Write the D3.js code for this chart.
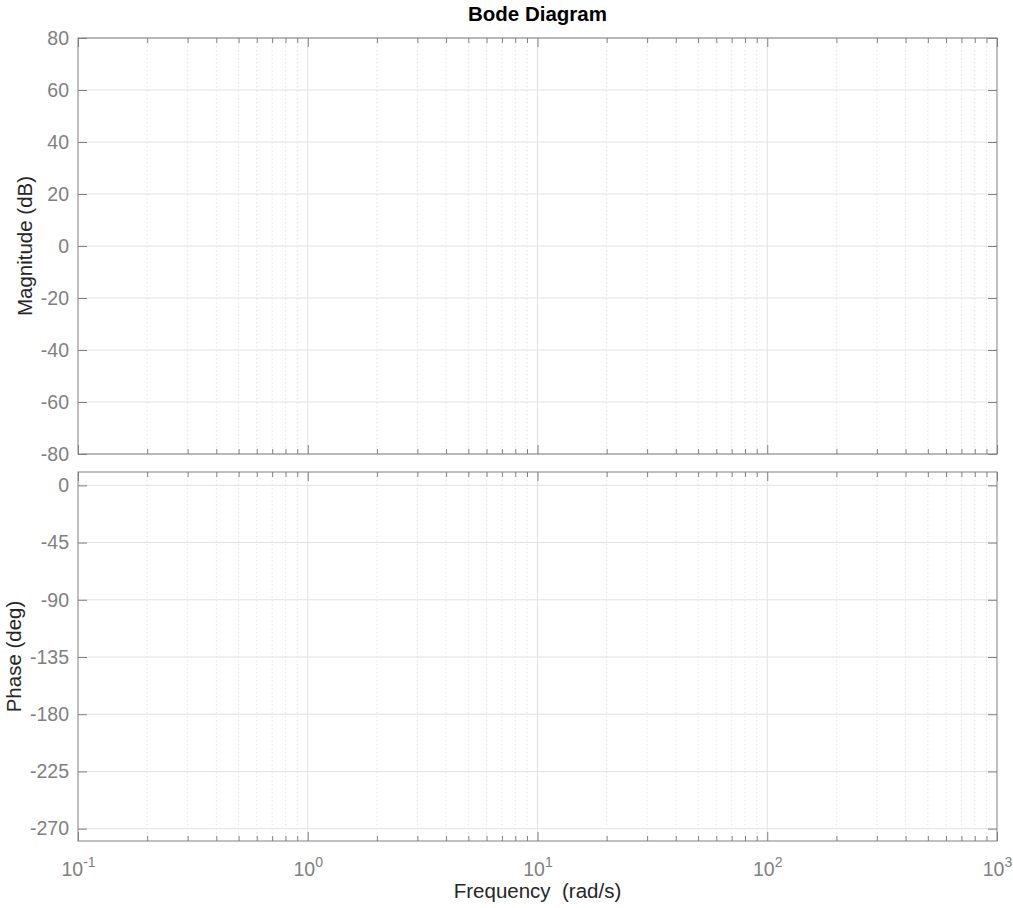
<!DOCTYPE html>
<html>
<head>
<meta charset="utf-8">
<script src="https://cdn.jsdelivr.net/npm/d3@7"></script>
<style>
  body { margin: 0; background: #fff; }
  svg { display: block; font-family: "Liberation Sans", Arial, Helvetica, sans-serif; }
  .tick-label { fill: #808080; font-size: 19.5px; }
  .axis-label { fill: #262626; font-size: 20.5px; }
  .title { fill: #000; font-size: 20.5px; font-weight: bold; }
</style>
</head>
<body>
<div id="chart"></div>
<script>
"use strict";

// frequency axis (rad/s), log scale, one label per decade
var freqDomain = [0.1, 1000];
var freqDecades = [0.1, 1, 10, 100, 1000];
var freqExponents = ["-1", "0", "1", "2", "3"];

// magnitude panel (dB)
var magDomain = [-80, 80];
var magTicks = [-80, -60, -40, -20, 0, 20, 40, 60, 80];

// phase panel (deg)
var phaseDomain = [-279.7, 10.5];
var phaseTicks = [-270, -225, -180, -135, -90, -45, 0];

var w = 1013,
  h = 908,
  left = 78,
  right = 997;

var svg = d3
  .select("#chart")
  .append("svg")
  .attr("width", w)
  .attr("height", h);

var x = d3.scaleLog().domain(freqDomain).range([left, right]);

// all ticks 1..9 per decade for minor grid
var minorTicks = x.ticks().filter(function(d) {
  return freqDecades.indexOf(d) < 0;
});

//plain hyphen for negative numbers, like the reference
var fmt = function(d) {
  return String(d);
};

function panel(yDomain, yTicks, top, bottom, showX) {
  var y = d3.scaleLinear().domain(yDomain).range([bottom, top]);
  var g = svg.append("g");

  // minor grid (dotted)
  g.append("g")
    .selectAll("line")
    .data(minorTicks)
    .enter()
    .append("line")
    .attr("x1", function(d) { return x(d); })
    .attr("x2", function(d) { return x(d); })
    .attr("y1", top)
    .attr("y2", bottom)
    .attr("stroke", "#e6e6e6")
    .attr("stroke-width", 1)
    .attr("stroke-dasharray", "1.5,2.5");

  // major grid
  g.append("g")
    .selectAll("line")
    .data(freqDecades.slice(1, -1))
    .enter()
    .append("line")
    .attr("x1", function(d) { return x(d); })
    .attr("x2", function(d) { return x(d); })
    .attr("y1", top)
    .attr("y2", bottom)
    .attr("stroke", "#e2e2e2")
    .attr("stroke-width", 1);

  g.append("g")
    .selectAll("line")
    .data(yTicks)
    .enter()
    .append("line")
    .attr("x1", left)
    .attr("x2", right)
    .attr("y1", function(d) { return y(d); })
    .attr("y2", function(d) { return y(d); })
    .attr("stroke", "#e2e2e2")
    .attr("stroke-width", 1);

  // inward ticks: left / right
  var yl = g.append("g")
    .attr("transform", "translate(" + left + ",0)")
    .call(d3.axisLeft(y).tickValues(yTicks).tickFormat(fmt).tickSizeInner(-9).tickSizeOuter(0).tickPadding(9));
  yl.select(".domain").remove();
  yl.selectAll("line").attr("stroke", "#808080");
  yl.selectAll("text")
    .attr("class", "tick-label")
    .attr("font-family", null)
    .attr("font-size", null)
    .attr("fill", null);

  var yr = g.append("g")
    .attr("transform", "translate(" + right + ",0)")
    .call(d3.axisRight(y).tickValues(yTicks).tickSizeInner(-9).tickSizeOuter(0).tickFormat(""));
  yr.select(".domain").remove();
  yr.selectAll("line").attr("stroke", "#808080");

  // inward ticks: top / bottom, major longer than minor
  [[top, d3.axisTop], [bottom, d3.axisBottom]].forEach(function(s) {
    var maj = g.append("g")
      .attr("transform", "translate(0," + s[0] + ")")
      .call(s[1](x).tickValues(freqDecades).tickSizeInner(-9).tickSizeOuter(0).tickFormat(""));
    maj.select(".domain").remove();
    maj.selectAll("line").attr("stroke", "#808080");
    var mn = g.append("g")
      .attr("transform", "translate(0," + s[0] + ")")
      .call(s[1](x).tickValues(minorTicks).tickSizeInner(-5).tickSizeOuter(0).tickFormat(""));
    mn.select(".domain").remove();
    mn.selectAll("line").attr("stroke", "#808080");
  });

  // box
  g.append("rect")
    .attr("x", left)
    .attr("y", top)
    .attr("width", right - left)
    .attr("height", bottom - top)
    .attr("fill", "none")
    .attr("stroke", "#808080")
    .attr("stroke-width", 1);

  if (showX) {
    var xa = g.append("g")
      .attr("transform", "translate(0," + bottom + ")")
      .call(d3.axisBottom(x).tickValues(freqDecades).tickSize(0).tickPadding(0).tickFormat(""));
    xa.select(".domain").remove();
    xa.selectAll(".tick").each(function(d, i) {
      var t = d3.select(this).append("text")
        .attr("class", "tick-label")
        .attr("y", 35)
        .attr("text-anchor", "middle");
      t.append("tspan").text("10");
      t.append("tspan")
        .attr("dy", -9)
        .style("font-size", "14px")
        .text(freqExponents[i]);
    });
  }
  return y;
}

panel(magDomain, magTicks, 38, 454, false);
panel(phaseDomain, phaseTicks, 472, 841, true);

svg.append("text")
  .attr("class", "title")
  .attr("x", (left + right) / 2)
  .attr("y", 21)
  .attr("text-anchor", "middle")
  .text("Bode Diagram");

svg.append("text")
  .attr("class", "axis-label")
  .attr("x", (left + right) / 2)
  .attr("y", 898)
  .attr("text-anchor", "middle")
  .attr("xml:space", "preserve")
  .style("white-space", "pre")
  .text("Frequency  (rad/s)");

svg.append("text")
  .attr("class", "axis-label")
  .attr("transform", "translate(32," + (38 + 454) / 2 + ") rotate(-90)")
  .attr("text-anchor", "middle")
  .text("Magnitude (dB)");

svg.append("text")
  .attr("class", "axis-label")
  .attr("transform", "translate(21," + (472 + 841) / 2 + ") rotate(-90)")
  .attr("text-anchor", "middle")
  .text("Phase (deg)");
</script>
</body>
</html>
